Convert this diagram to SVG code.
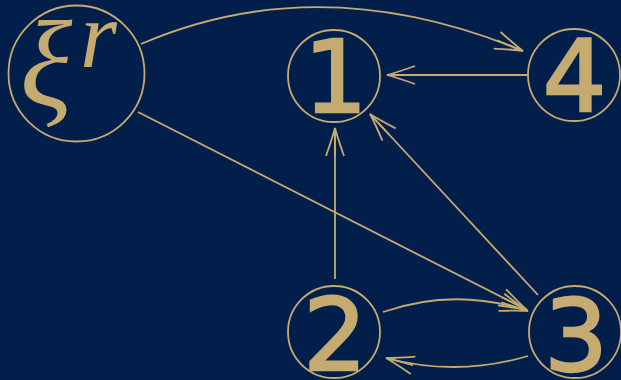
<svg xmlns="http://www.w3.org/2000/svg" width="621" height="380" viewBox="0 0 621 380">
<style>
.n{fill:none;stroke:#c6ab70;stroke-width:1.8}
.e{fill:none;stroke:#c6ab70;stroke-width:1.8;marker-end:url(#a)}
.d{font-family:"DejaVu Sans",sans-serif;font-size:100px;fill:#c6ab70;stroke:#c6ab70;stroke-width:2.5;text-anchor:middle}
.x{font-family:"Liberation Serif",serif;font-style:italic;fill:#c6ab70}
</style>
<defs>
<marker id="a" markerUnits="userSpaceOnUse" viewBox="-30 -12 32 24" refX="0" refY="0" markerWidth="32" markerHeight="24" orient="auto" overflow="visible">
<path d="M-28,-9 Q-8,-2 0,0 Q-8,2 -28,9 M-28,0 L0,0" fill="none" stroke="#c6ab70" stroke-width="1.8"/>
</marker>
</defs>
<rect width="621" height="380" fill="#021e4b"/>
<g id="connectors">
<path class="e" d="M141,44 Q320,-33 523,51"/>
<path class="e" d="M528,75 L387,75"/>
<path class="e" d="M335,279 L335,128"/>
<path class="e" d="M538,295 L370,114"/>
<path class="e" d="M138,112 L527,310"/>
<path class="e" d="M383,312 Q455,287 528,311"/>
<path class="e" d="M528,356 Q457,377 386,358"/>
</g>
<g id="xi">
<circle class="n" cx="76.5" cy="73.5" r="68"/>
<text class="x" x="20" y="106" font-size="122">ξ</text>
<text class="x" x="80" y="67" font-size="95">r</text>
</g>
<g id="n1">
<circle class="n" cx="334" cy="76" r="46"/>
<text class="d" x="335.5" y="112">1</text>
</g>
<g id="n4">
<circle class="n" cx="574" cy="75" r="46"/>
<text class="d" x="574.5" y="111">4</text>
</g>
<g id="n2">
<circle class="n" cx="334" cy="332" r="46"/>
<text class="d" x="335" y="370">2</text>
</g>
<g id="n3">
<circle class="n" cx="575" cy="332" r="46"/>
<text class="d" x="576" y="371">3</text>
</g>
</svg>
